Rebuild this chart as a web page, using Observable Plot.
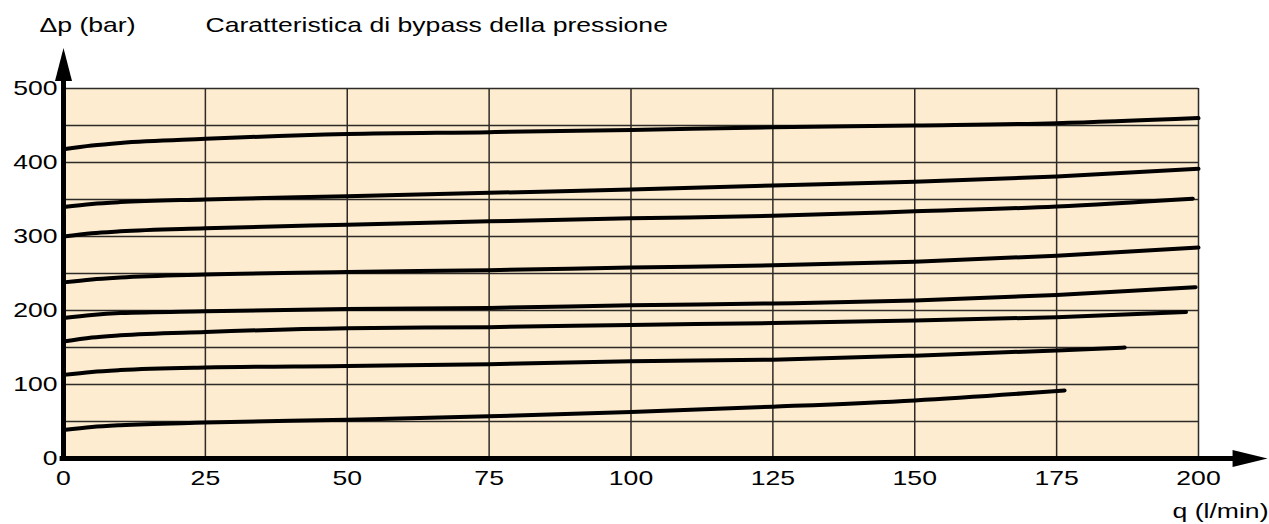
<!DOCTYPE html>
<html>
<head>
<meta charset="utf-8">
<script src="https://cdn.jsdelivr.net/npm/d3@7"></script>
<script src="https://cdn.jsdelivr.net/npm/@observablehq/plot@0.6"></script>
<style>
  html, body { margin: 0; padding: 0; background: #fff; }
</style>
</head>
<body>
<div id="chart"></div>
<script>
// Flow q (l/min) and pressure difference Δp (bar), one pair of arrays per curve
const q1 = [0, 5, 10, 25, 50, 75, 100, 125, 150, 175, 200];
const dp1 = [418, 423, 426.5, 432, 438.5, 441, 444, 447.5, 450, 453, 460];
const q2 = [0, 5, 10, 25, 50, 75, 100, 125, 150, 175, 200];
const dp2 = [340, 344, 346.5, 350, 354.5, 359, 363.5, 369, 374, 381, 391.5];
const q3 = [0, 5, 10, 25, 50, 75, 100, 125, 150, 175, 199];
const dp3 = [300, 304.5, 307, 311, 316, 320.5, 324.5, 328, 334, 340.5, 351];
const q4 = [0, 5, 10, 25, 50, 75, 100, 125, 150, 175, 200];
const dp4 = [238, 242, 244.5, 248.5, 252, 254.5, 258, 261, 266, 274, 285];
const q5 = [0, 5, 10, 25, 50, 75, 100, 125, 150, 175, 199.5];
const dp5 = [190, 194, 196.5, 199, 202, 203.5, 207, 209.5, 213.5, 221, 231.5];
const q6 = [0, 5, 10, 25, 50, 75, 100, 125, 150, 175, 197.8];
const dp6 = [158, 163.5, 166.5, 171, 176, 177.5, 180.5, 183, 186.5, 191, 198];
const q7 = [0, 5, 10, 25, 50, 75, 100, 125, 150, 175, 187];
const dp7 = [113, 117, 119.5, 123, 125, 127.5, 131.5, 133.5, 139, 146, 150];
const q8 = [0, 5, 10, 25, 50, 75, 100, 125, 150, 176.4];
const dp8 = [38.5, 42.5, 45, 48.5, 52.5, 57, 63, 70, 78.5, 92];

const xTicks = [0, 25, 50, 75, 100, 125, 150, 175, 200];
const yTicks = [0, 100, 200, 300, 400, 500];
const yGrid = [0, 50, 100, 150, 200, 250, 300, 350, 400, 450, 500];

const titleText = "Caratteristica di bypass della pressione";
const yLabelText = "Δp (bar)";
const xLabelText = "q (l/min)";

const curves = [[q1, dp1], [q2, dp2], [q3, dp3], [q4, dp4], [q5, dp5], [q6, dp6], [q7, dp7], [q8, dp8]];
const data = curves.flatMap(([qs, dps], i) => qs.map((q, j) => ({q, dp: dps[j], curve: i})));

// filled arrow-head shape for axis ends
const arrowHead = {
  draw(context, l) {
    const w = 8.5;
    context.moveTo(-w, 0);
    context.lineTo(0, -l);
    context.lineTo(w, 0);
    context.closePath();
  }
};

const chart = Plot.plot({
  width: 1269,
  height: 524,
  marginLeft: 63,
  marginRight: 71,
  marginTop: 88,
  marginBottom: 66,
  style: {fontFamily: "'Liberation Sans', Arial, Helvetica, sans-serif", fontSize: "20px", color: "#000", background: "#fff"},
  x: {domain: [0, 200]},
  y: {domain: [0, 500]},
  marks: [
    Plot.frame({fill: "#fdecd0", stroke: null}),
    Plot.gridX(xTicks, {stroke: "#2e2a26", strokeOpacity: 1, strokeWidth: 1.5}),
    Plot.gridY(yGrid, {stroke: "#2e2a26", strokeOpacity: 1, strokeWidth: 1.5}),
    Plot.line(data, {x: "q", y: "dp", z: "curve", stroke: "#000", strokeWidth: 4, curve: "monotone-x"}),
    Plot.ruleX([0], {y1: 0, y2: 512, stroke: "#000", strokeWidth: 5}),
    Plot.ruleY([0], {x1: -0.6, x2: 207, stroke: "#000", strokeWidth: 5}),
    Plot.vector([{x: 0, y: 510}], {x: "x", y: "y", length: 33, rotate: 0, anchor: "start", shape: arrowHead, fill: "#000", stroke: null}),
    Plot.vector([{x: 206, y: 0}], {x: "x", y: "y", length: 35, rotate: 90, anchor: "start", shape: arrowHead, fill: "#000", stroke: null}),
    Plot.axisX(xTicks, {tickSize: 0, tickPadding: 12, label: null}),
    Plot.axisY(yTicks, {tickSize: 0, tickPadding: 6, label: null}),
    Plot.text([yLabelText], {frameAnchor: "top-left", dx: -24, dy: -63, textAnchor: "start", lineAnchor: "middle"}),
    Plot.text([titleText], {frameAnchor: "top-left", dx: 142, dy: -63, textAnchor: "start", lineAnchor: "middle"}),
    Plot.text([xLabelText], {frameAnchor: "bottom-right", dx: 70, dy: 53, textAnchor: "end", lineAnchor: "middle"})
  ]
});
document.getElementById("chart").appendChild(chart);

// The reference lettering is horizontally wide: stretch each text around its anchor point
const stretch = 1.33;
d3.select(chart).selectAll("text").each(function() {
  const ax = (+this.getAttribute("x") || 0) + (+this.getAttribute("dx") || 0);
  const old = this.getAttribute("transform") || "";
  this.setAttribute("transform", `${old} translate(${ax},0) scale(${stretch},1) translate(${-ax},0)`);
});
</script>
</body>
</html>
